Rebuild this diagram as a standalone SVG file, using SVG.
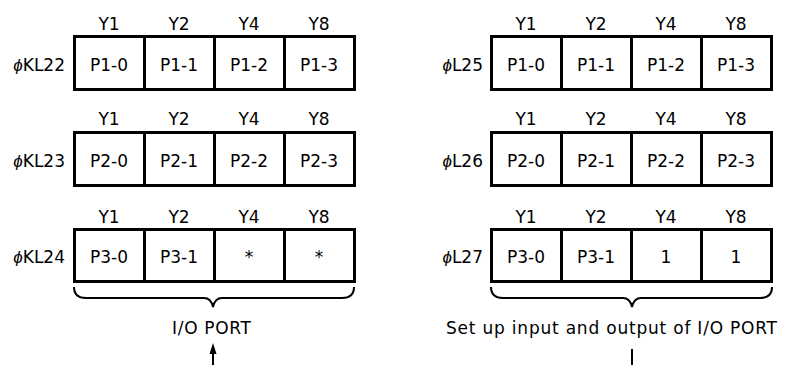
<svg xmlns="http://www.w3.org/2000/svg" width="789" height="365" viewBox="0 0 789 365">
<style>
text{font-family:"DejaVu Sans","Liberation Sans",sans-serif;font-size:17px;fill:#000}
.c{text-anchor:middle}
.r{text-anchor:end}
.phi{font-family:"Liberation Sans","DejaVu Sans",sans-serif;font-style:italic}
.box{fill:#fff;stroke:#000;stroke-width:3}
.div{stroke:#000;stroke-width:3}
.br{fill:none;stroke:#000;stroke-width:2}
.ln{stroke:#000;stroke-width:2}
</style>
<rect width="789" height="365" fill="#fff"/>

<g id="kl22">
<text class="c" x="109" y="30">Y1</text><text class="c" x="179" y="30">Y2</text><text class="c" x="249" y="30">Y4</text><text class="c" x="319" y="30">Y8</text>
<rect class="box" x="74.5" y="36.5" width="280" height="53"/>
<line class="div" x1="144.5" y1="36.5" x2="144.5" y2="89.5"/><line class="div" x1="214.5" y1="36.5" x2="214.5" y2="89.5"/><line class="div" x1="284.5" y1="36.5" x2="284.5" y2="89.5"/>
<text class="r" x="65" y="71"><tspan class="phi">ϕ</tspan>KL22</text>
<text class="c" x="109" y="71">P1-0</text><text class="c" x="179" y="71">P1-1</text><text class="c" x="249" y="71">P1-2</text><text class="c" x="319" y="71">P1-3</text>
</g>

<g id="kl23">
<text class="c" x="109" y="125">Y1</text><text class="c" x="179" y="125">Y2</text><text class="c" x="249" y="125">Y4</text><text class="c" x="319" y="125">Y8</text>
<rect class="box" x="74.5" y="132.5" width="280" height="53"/>
<line class="div" x1="144.5" y1="132.5" x2="144.5" y2="185.5"/><line class="div" x1="214.5" y1="132.5" x2="214.5" y2="185.5"/><line class="div" x1="284.5" y1="132.5" x2="284.5" y2="185.5"/>
<text class="r" x="65" y="167"><tspan class="phi">ϕ</tspan>KL23</text>
<text class="c" x="109" y="167">P2-0</text><text class="c" x="179" y="167">P2-1</text><text class="c" x="249" y="167">P2-2</text><text class="c" x="319" y="167">P2-3</text>
</g>

<g id="kl24">
<text class="c" x="109" y="223">Y1</text><text class="c" x="179" y="223">Y2</text><text class="c" x="249" y="223">Y4</text><text class="c" x="319" y="223">Y8</text>
<rect class="box" x="74.5" y="229.5" width="280" height="52"/>
<line class="div" x1="144.5" y1="229.5" x2="144.5" y2="281.5"/><line class="div" x1="214.5" y1="229.5" x2="214.5" y2="281.5"/><line class="div" x1="284.5" y1="229.5" x2="284.5" y2="281.5"/>
<text class="r" x="65" y="263"><tspan class="phi">ϕ</tspan>KL24</text>
<text class="c" x="109" y="263">P3-0</text><text class="c" x="179" y="263">P3-1</text><text class="c" x="249" y="263">*</text><text class="c" x="319" y="263">*</text>
</g>

<g id="l25">
<text class="c" x="526" y="30">Y1</text><text class="c" x="596" y="30">Y2</text><text class="c" x="666" y="30">Y4</text><text class="c" x="736" y="30">Y8</text>
<rect class="box" x="491.5" y="36.5" width="280" height="53"/>
<line class="div" x1="561.5" y1="36.5" x2="561.5" y2="89.5"/><line class="div" x1="631.5" y1="36.5" x2="631.5" y2="89.5"/><line class="div" x1="701.5" y1="36.5" x2="701.5" y2="89.5"/>
<text class="r" x="483" y="71"><tspan class="phi">ϕ</tspan>L25</text>
<text class="c" x="526" y="71">P1-0</text><text class="c" x="596" y="71">P1-1</text><text class="c" x="666" y="71">P1-2</text><text class="c" x="736" y="71">P1-3</text>
</g>

<g id="l26">
<text class="c" x="526" y="125">Y1</text><text class="c" x="596" y="125">Y2</text><text class="c" x="666" y="125">Y4</text><text class="c" x="736" y="125">Y8</text>
<rect class="box" x="491.5" y="132.5" width="280" height="53"/>
<line class="div" x1="561.5" y1="132.5" x2="561.5" y2="185.5"/><line class="div" x1="631.5" y1="132.5" x2="631.5" y2="185.5"/><line class="div" x1="701.5" y1="132.5" x2="701.5" y2="185.5"/>
<text class="r" x="483" y="167"><tspan class="phi">ϕ</tspan>L26</text>
<text class="c" x="526" y="167">P2-0</text><text class="c" x="596" y="167">P2-1</text><text class="c" x="666" y="167">P2-2</text><text class="c" x="736" y="167">P2-3</text>
</g>

<g id="l27">
<text class="c" x="526" y="223">Y1</text><text class="c" x="596" y="223">Y2</text><text class="c" x="666" y="223">Y4</text><text class="c" x="736" y="223">Y8</text>
<rect class="box" x="491.5" y="229.5" width="280" height="52"/>
<line class="div" x1="561.5" y1="229.5" x2="561.5" y2="281.5"/><line class="div" x1="631.5" y1="229.5" x2="631.5" y2="281.5"/><line class="div" x1="701.5" y1="229.5" x2="701.5" y2="281.5"/>
<text class="r" x="483" y="263"><tspan class="phi">ϕ</tspan>L27</text>
<text class="c" x="526" y="263">P3-0</text><text class="c" x="596" y="263">P3-1</text><text class="c" x="666" y="263">1</text><text class="c" x="736" y="263">1</text>
</g>

<g id="io-port">
<path class="br" d="M74,287 Q74,298 86,298 L204,298 Q211,298 213,307 Q215,298 222,298 L342,298 Q354,298 354,287"/>
<text x="172" y="334" textLength="79" lengthAdjust="spacing">I/O PORT</text>
</g>

<g id="setup">
<path class="br" d="M491,287 Q491,298 503,298 L623,298 Q630,298 632,307 Q634,298 641,298 L760,298 Q772,298 772,287"/>
<text x="446" y="334" textLength="331" lengthAdjust="spacing">Set up input and output of I/O PORT</text>
</g>

<g id="connectors">
<line class="ln" x1="213" y1="365" x2="213" y2="352"/>
<path d="M213,343 L209.5,354 L216.5,354 z" fill="#000"/>
<line class="ln" x1="632" y1="349" x2="632" y2="365"/>
</g>
</svg>
